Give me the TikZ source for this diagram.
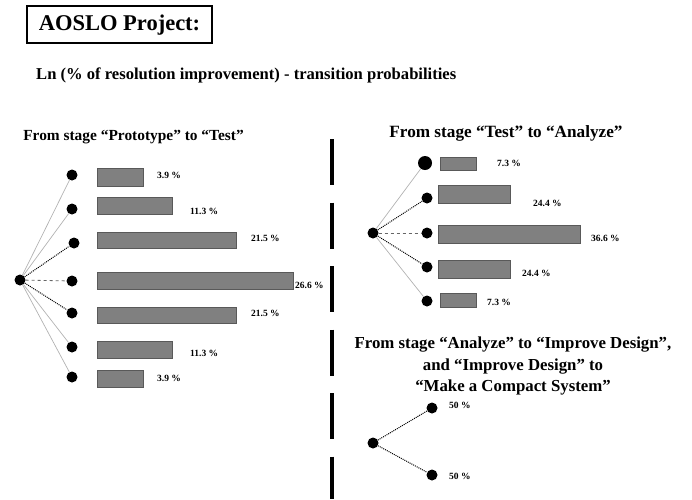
\documentclass[tikz,border=0pt]{standalone}
\usepackage{fontspec}
\setmainfont{Liberation Serif}
\begin{document}
\begin{tikzpicture}[x=1pt,y=-1pt,
  dot/.style={circle,fill=black,inner sep=0pt,minimum size=11pt},
  bigdot/.style={circle,fill=black,inner sep=0pt,minimum size=14pt},
  bar/.style={draw=black!65,fill=black!50,line width=0.8pt},
  pct/.style={anchor=west,inner sep=0pt,font=\bfseries\fontsize{9.5}{10}\selectfont},
  head/.style={inner sep=0pt,font=\bfseries\fontsize{15.4}{18}\selectfont},
  solidedge/.style={draw=black!30,line width=0.7pt},
  dotedge/.style={draw=black,line width=1pt,densely dotted},
  dashedge/.style={draw=black!60,line width=0.8pt,dashed}]
\useasboundingbox (0,0) rectangle (692,499);
% title
\draw[line width=1.8pt] (27,6) rectangle (212,43);
\node[inner sep=0pt,font=\bfseries\fontsize{22.5}{26}\selectfont] (title) at (119.5,25) {AOSLO Project:};
\node[anchor=west,inner sep=0pt,font=\bfseries\fontsize{16.6}{20}\selectfont] (sub) at (36,75) {Ln (\% of resolution improvement) - transition probabilities};
% separator
\draw[line width=4pt,dash pattern=on 46pt off 17.5pt] (332,139) -- (332,499);
% left heading
\node[head] (lh) at (133.5,137) {From stage “Prototype” to “Test”};
% left tree
\node[dot] (L0) at (20,280) {};
\node[dot] (L1) at (72,175) {};
\node[dot] (L2) at (72,209) {};
\node[dot] (L3) at (74,243) {};
\node[dot] (L4) at (72,281) {};
\node[dot] (L5) at (72,313) {};
\node[dot] (L6) at (72,347) {};
\node[dot] (L7) at (72,377) {};
\draw[solidedge] (L0) -- (L1);
\draw[solidedge] (L0) -- (L2);
\draw[dotedge] (L0) -- (L3);
\draw[dashedge] (L0) -- (L4);
\draw[dotedge] (L0) -- (L5);
\draw[solidedge] (L0) -- (L6);
\draw[solidedge] (L0) -- (L7);
% left bars
\draw[bar] (97,168) rectangle (143,186);
\draw[bar] (97,197) rectangle (172,214);
\draw[bar] (97,232) rectangle (236,248);
\draw[bar] (97,272) rectangle (293,289);
\draw[bar] (97,307) rectangle (236,323);
\draw[bar] (97,341) rectangle (172,358);
\draw[bar] (97,370) rectangle (143,387);
\node[pct] (lp1) at (157,175) {3.9 \%};
\node[pct] (lp2) at (190,211) {11.3 \%};
\node[pct] (lp3) at (251,238) {21.5 \%};
\node[pct] (lp4) at (295,285) {26.6 \%};
\node[pct] (lp5) at (251,313) {21.5 \%};
\node[pct] (lp6) at (190,353) {11.3 \%};
\node[pct] (lp7) at (157,378) {3.9 \%};
% right heading
\node[head,font=\bfseries\fontsize{17.2}{20}\selectfont] (rh) at (506,133) {From stage “Test” to “Analyze”};
% right tree
\node[dot] (R0) at (373,233) {};
\node[bigdot] (R1) at (425,163) {};
\node[dot] (R2) at (427,198) {};
\node[dot] (R3) at (427,233) {};
\node[dot] (R4) at (427,267) {};
\node[dot] (R5) at (427,301) {};
\draw[solidedge] (R0) -- (R1);
\draw[dotedge] (R0) -- (R2);
\draw[dashedge] (R0) -- (R3);
\draw[dotedge] (R0) -- (R4);
\draw[solidedge] (R0) -- (R5);
\draw[bar] (440,157) rectangle (476,170);
\draw[bar] (438,185) rectangle (510,203);
\draw[bar] (438,225) rectangle (580,243);
\draw[bar] (438,260) rectangle (510,278);
\draw[bar] (440,293) rectangle (476,307);
\node[pct] (rp1) at (497,163) {7.3 \%};
\node[pct] (rp2) at (533,203) {24.4 \%};
\node[pct] (rp3) at (591,238) {36.6 \%};
\node[pct] (rp4) at (522,273) {24.4 \%};
\node[pct] (rp5) at (487,302) {7.3 \%};
% bottom heading
\node[inner sep=0pt,align=center,font=\bfseries\fontsize{16.8}{21.5}\selectfont] (bh) at (513,366) {From stage “Analyze” to “Improve Design”,\\and “Improve Design” to\\“Make a Compact System”};
% bottom tree
\node[dot] (B0) at (373,443) {};
\node[dot] (B1) at (432,408) {};
\node[dot] (B2) at (432,475) {};
\draw[dotedge] (B0) -- (B1);
\draw[dotedge] (B0) -- (B2);
\node[pct] (bp1) at (449,405) {50 \%};
\node[pct] (bp2) at (449,476) {50 \%};
\end{tikzpicture}
\end{document}
